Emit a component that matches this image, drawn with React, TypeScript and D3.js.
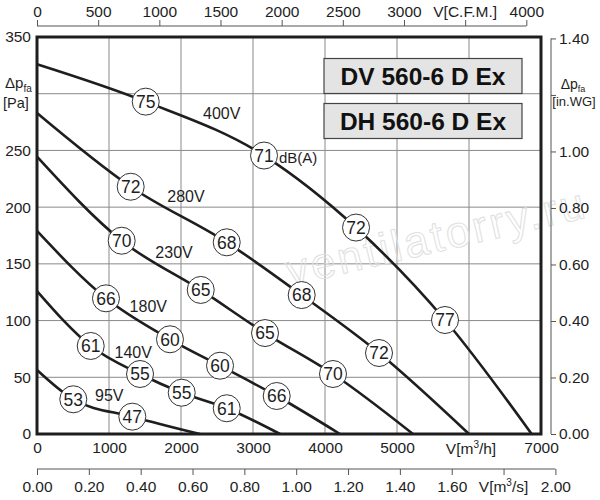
import { useEffect, useRef } from "react";
import * as d3 from "d3";

// Flow [m³/h] and static pressure [Pa], one pair of arrays per voltage step
const Q_400V = [0, 1510, 3153, 4431, 5667, 6870];
const P_400V = [326, 293, 245.5, 182, 100.5, 0];
const Q_280V = [0, 1301, 2635, 3676, 4750, 6000];
const P_280V = [283, 218, 169, 122.5, 71.4, 0];
const Q_230V = [0, 1176, 2274, 3167, 4111, 5222];
const P_230V = [244.5, 170.4, 127, 89, 52.9, 0];
const Q_180V = [0, 958, 1847, 2542, 3329, 4208];
const P_180V = [179, 119.6, 83.5, 60.2, 33.5, 0];
const Q_140V = [0, 746, 1431, 2010, 2635, 3375];
const P_140V = [126, 77.6, 52.9, 36.4, 22.7, 0];
const Q_95V = [0, 504, 1324, 2264];
const P_95V = [56.4, 30.6, 15.3, 0];

// Sound level bubbles, placed on the inner points of each curve
const DB_400V = [75, 71, 72, 77];
const DB_280V = [72, 68, 68, 72];
const DB_230V = [70, 65, 65, 70];
const DB_180V = [66, 60, 60, 66];
const DB_140V = [61, 55, 55, 61];
const DB_95V = [53, 47];

const VOLTAGES = ["400V", "280V", "230V", "180V", "140V", "95V"];
// Where the voltage label sits, in chart units
const LABEL_Q = [2565, 2069, 1903, 1546, 1337, 1004];
const LABEL_P = [282.6, 209.8, 160.4, 112.8, 72, 33.8];

const Q_TICKS = [0, 1000, 2000, 3000, 4000, 5000, 6000, 7000];
const CFM_TICKS = [0, 500, 1000, 1500, 2000, 2500, 3000, 3500, 4000];
const QS_TICKS = [0, 0.2, 0.4, 0.6, 0.8, 1.0, 1.2, 1.4, 1.6, 1.8, 2.0];
const PA_TICKS = [0, 50, 100, 150, 200, 250, 300, 350];
const WG_TICKS = [0, 0.2, 0.4, 0.6, 0.8, 1.0, 1.2, 1.4];

const MODELS = ["DV 560-6 D Ex", "DH 560-6 D Ex"];

const M3H_PER_CFM = 1.69901;
const PA_PER_INWG = 249.089;

const FONT = "'Liberation Sans', Arial, sans-serif";
const INK = "#1e1e1e";

export default function App() {
  const svgRef = useRef<SVGSVGElement>(null);

  useEffect(() => {
    if (!svgRef.current) return;
    const svg = d3.select(svgRef.current);
    svg.selectAll("*").remove();

    const left = 37, right = 541, top = 37, bottom = 434;

    const x = d3.scaleLinear().domain([0, 7000]).range([left, right]);
    const y = d3.scaleLinear().domain([0, 350]).range([bottom, top]);
    const xCfm = d3.scaleLinear().domain([0, 7000 / M3H_PER_CFM]).range([left, right]);
    const xQs = d3.scaleLinear().domain([0, 7000 / 3600]).range([left, right]);
    const yWg = d3.scaleLinear().domain([0, 350 / PA_PER_INWG]).range([bottom, top]);

    svg.attr("font-family", FONT);

    const styleAxis = (axis: d3.Selection<SVGGElement, unknown, null, undefined>, size = "15.5px") => {
      axis.select(".domain").remove();
      axis.selectAll("line").attr("stroke", "#555").attr("stroke-width", 1);
      axis.selectAll("text").attr("fill", INK).attr("font-size", size).attr("font-family", FONT);
    };

    // Grid
    const grid = svg.append("g");
    Q_TICKS.slice(1, -1).forEach((q) => {
      grid.append("line")
        .attr("x1", x(q)).attr("x2", x(q)).attr("y1", top).attr("y2", bottom)
        .attr("stroke", "#8a8a8a").attr("stroke-width", 1);
    });
    PA_TICKS.slice(1, -1).forEach((p) => {
      grid.append("line")
        .attr("x1", left).attr("x2", right).attr("y1", y(p)).attr("y2", y(p))
        .attr("stroke", "#8a8a8a").attr("stroke-width", 1);
    });

    // Watermark
    svg.append("text")
      .attr("transform", "translate(290,286) rotate(-13)")
      .attr("font-size", 44)
      .attr("fill", "none")
      .attr("stroke", "#e0e0e0")
      .attr("stroke-width", 1)
      .attr("textLength", 305)
      .text("ventilatorry.ru");

    // Model boxes
    MODELS.forEach((m, i) => {
      const y0 = 58.5 + i * 45;
      svg.append("rect")
        .attr("x", 324).attr("y", y0).attr("width", 198).attr("height", 35)
        .attr("fill", "#e4e4e4").attr("stroke", "#444").attr("stroke-width", 1.2);
      svg.append("text")
        .attr("x", 423).attr("y", y0 + 26)
        .attr("text-anchor", "middle")
        .attr("font-size", 24.5).attr("font-weight", "bold").attr("fill", "#111")
        .text(m);
    });

    // Curves
    const curves = [
      { q: Q_400V, p: P_400V, db: DB_400V },
      { q: Q_280V, p: P_280V, db: DB_280V },
      { q: Q_230V, p: P_230V, db: DB_230V },
      { q: Q_180V, p: P_180V, db: DB_180V },
      { q: Q_140V, p: P_140V, db: DB_140V },
      { q: Q_95V, p: P_95V, db: DB_95V },
    ];

    const line = d3
      .line<[number, number]>()
      .x((d) => x(d[0]))
      .y((d) => y(d[1]))
      .curve(d3.curveMonotoneX);

    curves.forEach((c) => {
      const pts = c.q.map((q, i) => [q, c.p[i]] as [number, number]);
      svg.append("path")
        .datum(pts)
        .attr("fill", "none")
        .attr("stroke", INK)
        .attr("stroke-width", 2.6)
        .attr("d", line);
    });

    // Voltage labels
    VOLTAGES.forEach((v, i) => {
      svg.append("text")
        .attr("x", x(LABEL_Q[i])).attr("y", y(LABEL_P[i]))
        .attr("dy", "0.36em")
        .attr("text-anchor", "middle")
        .attr("font-size", 16).attr("fill", INK)
        .text(v);
    });

    // dB bubbles
    curves.forEach((c) => {
      c.db.forEach((db, j) => {
        const cx = x(c.q[j + 1]);
        const cy = y(c.p[j + 1]);
        svg.append("circle")
          .attr("cx", cx).attr("cy", cy).attr("r", 13.5)
          .attr("fill", "#fff").attr("stroke", "#333").attr("stroke-width", 1);
        svg.append("text")
          .attr("x", cx).attr("y", cy).attr("dy", "0.36em")
          .attr("text-anchor", "middle")
          .attr("font-size", 17.5).attr("fill", INK)
          .text(db);
      });
    });

    svg.append("text")
      .attr("x", 279).attr("y", 158).attr("dy", "0.36em")
      .attr("font-size", 15).attr("fill", INK)
      .text("dB(A)");

    // Frame
    svg.append("rect")
      .attr("x", left).attr("y", top)
      .attr("width", right - left).attr("height", bottom - top)
      .attr("fill", "none").attr("stroke", INK).attr("stroke-width", 3);

    // Bottom m³/h labels
    const axQ = svg.append("g")
      .attr("transform", `translate(0,${bottom})`)
      .call(d3.axisBottom(x).tickValues(Q_TICKS).tickSize(0).tickPadding(8)
        .tickFormat((d) => (+d === 6000 ? "" : String(d))));
    styleAxis(axQ);
    const tq = svg.append("text")
      .attr("x", x(6000) + 2).attr("y", bottom + 19.5)
      .attr("text-anchor", "middle").attr("font-size", "15.5px").attr("fill", INK);
    tq.append("tspan").text("V[m");
    tq.append("tspan").attr("font-size", "10px").attr("dy", -6).text("3");
    tq.append("tspan").attr("dy", 6).text("/h]");

    // Bottom m³/s axis
    const ySec = 469;
    svg.append("line")
      .attr("x1", xQs(0)).attr("x2", xQs(2)).attr("y1", ySec).attr("y2", ySec)
      .attr("stroke", "#555");
    const axQs = svg.append("g")
      .attr("transform", `translate(0,${ySec})`)
      .call(d3.axisBottom(xQs).tickValues(QS_TICKS).tickSize(6).tickPadding(6)
        .tickFormat((d) => (Math.abs(+d - 1.8) < 1e-6 ? "" : d3.format(".2f")(+d))));
    styleAxis(axQs);
    const ts = svg.append("text")
      .attr("x", xQs(1.8)).attr("y", ySec + 23)
      .attr("text-anchor", "middle").attr("font-size", "15.5px").attr("fill", INK);
    ts.append("tspan").text("V[m");
    ts.append("tspan").attr("font-size", "10px").attr("dy", -6).text("3");
    ts.append("tspan").attr("dy", 6).text("/s]");

    // Top CFM axis
    const yTop = 26;
    svg.append("line")
      .attr("x1", xCfm(0)).attr("x2", xCfm(4000)).attr("y1", yTop).attr("y2", yTop)
      .attr("stroke", "#555");
    const axCfm = svg.append("g")
      .attr("transform", `translate(0,${yTop})`)
      .call(d3.axisTop(xCfm).tickValues(CFM_TICKS).tickSize(6).tickPadding(3)
        .tickFormat((d) => (+d === 3500 ? "" : String(d))));
    styleAxis(axCfm);
    svg.append("text")
      .attr("x", xCfm(3500)).attr("y", yTop - 9)
      .attr("text-anchor", "middle").attr("font-size", "15.5px").attr("fill", INK)
      .text("V[C.F.M.]");

    // Left Pa labels
    const axPa = svg.append("g")
      .attr("transform", `translate(${left},0)`)
      .call(d3.axisLeft(y).tickValues(PA_TICKS).tickSize(0).tickPadding(6)
        .tickFormat((d) => (+d === 300 ? "" : String(d))));
    styleAxis(axPa);
    const dpL = svg.append("text").attr("x", 5).attr("y", 88).attr("font-size", "15px").attr("fill", INK);
    dpL.append("tspan").text("Δp");
    dpL.append("tspan").attr("font-size", "10px").attr("dy", 4).text("fa");
    svg.append("text").attr("x", 3).attr("y", 108).attr("font-size", "14.5px").attr("fill", INK).text("[Pa]");

    // Right in.WG axis
    const xR = 551;
    svg.append("line")
      .attr("x1", xR).attr("x2", xR).attr("y1", yWg(0)).attr("y2", yWg(1.4))
      .attr("stroke", "#555");
    const axWg = svg.append("g")
      .attr("transform", `translate(${xR},0)`)
      .call(d3.axisRight(yWg).tickValues(WG_TICKS).tickSize(5).tickPadding(3)
        .tickFormat((d) => (Math.abs(+d - 1.2) < 1e-6 ? "" : d3.format(".2f")(+d))));
    styleAxis(axWg);
    const dpR = svg.append("text").attr("x", 573).attr("y", 89).attr("text-anchor", "middle")
      .attr("font-size", "14px").attr("fill", INK);
    dpR.append("tspan").text("Δp");
    dpR.append("tspan").attr("font-size", "9px").attr("dy", 3).text("fa");
    svg.append("text").attr("x", 574).attr("y", 106).attr("text-anchor", "middle")
      .attr("font-size", "13px").attr("fill", INK).text("[in.WG]");
  }, []);

  return (
    <svg
      ref={svgRef}
      width={600}
      height={500}
      style={{ position: "absolute", left: 0, top: 0, background: "#fff" }}
    />
  );
}
